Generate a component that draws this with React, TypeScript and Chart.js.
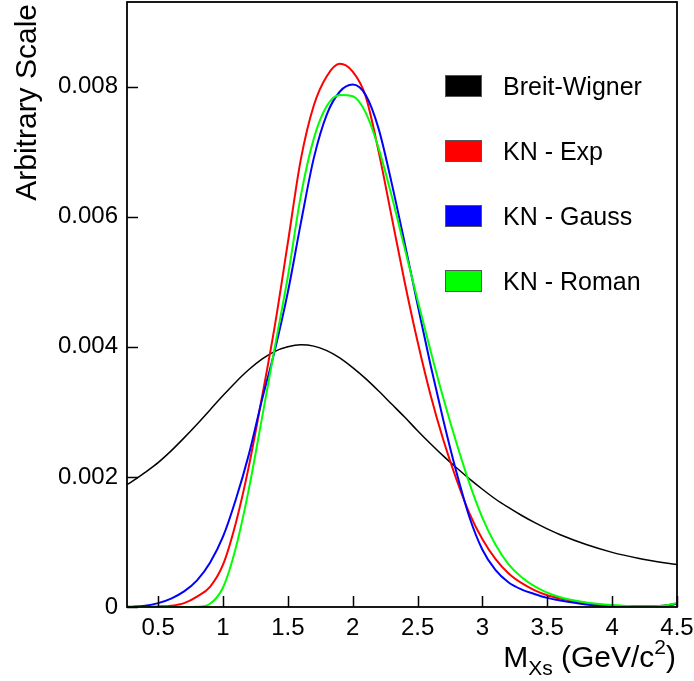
import React, { useEffect, useRef } from "react";
import { Chart, registerables } from "chart.js";

Chart.register(...registerables);

// ---- data ----
const massGrid = [0.26, 0.3, 0.4, 0.5, 0.6, 0.7, 0.8, 0.9, 1.0, 1.1, 1.2, 1.3, 1.4, 1.5, 1.6, 1.7, 1.8, 1.9, 2.0, 2.1, 2.2, 2.3, 2.4, 2.5, 2.6, 2.7, 2.8, 2.9, 3.0, 3.1, 3.2, 3.3, 3.4, 3.5, 3.6, 3.8, 4.0, 4.2, 4.4, 4.5];

const breitWigner = [0.00188, 0.00193, 0.00207, 0.00222, 0.0024, 0.0026, 0.00281, 0.00303, 0.00325, 0.00346, 0.00365, 0.00381, 0.00393, 0.004, 0.00403, 0.00401, 0.00394, 0.00383, 0.00368, 0.00351, 0.00332, 0.00312, 0.00292, 0.00271, 0.00251, 0.00232, 0.00214, 0.00197, 0.00181, 0.00166, 0.00153, 0.00141, 0.0013, 0.0012, 0.00111, 0.00096, 0.00084, 0.00075, 0.00068, 0.00065];

const knExp = [0, 0, 0.000003, 0.000008, 0.00002, 0.00006, 0.00016, 0.00031, 0.00065, 0.0013, 0.00217, 0.00322, 0.00433, 0.0056, 0.00688, 0.00771, 0.00816, 0.00835, 0.00823, 0.00785, 0.007, 0.006, 0.005, 0.00408, 0.00326, 0.00256, 0.00196, 0.00144, 0.00104, 0.00074, 0.00052, 0.00037, 0.00026, 0.00018, 0.00013, 0.00006, 0.00002, 0.00001, 0.00002, 0.00005];

const knGauss = [0.000002, 0.000005, 0.00002, 0.00006, 0.00013, 0.00024, 0.00041, 0.00068, 0.00108, 0.00166, 0.00235, 0.00318, 0.00395, 0.00484, 0.0059, 0.0069, 0.00757, 0.00792, 0.00803, 0.00787, 0.00735, 0.00652, 0.0056, 0.00465, 0.00372, 0.00286, 0.00207, 0.00138, 0.00088, 0.00057, 0.00038, 0.00027, 0.0002, 0.00014, 0.0001, 0.00004, 0.00001, 0.00001, 0.00002, 0.00005];

const knRoman = [0, 0, 0, 0, 0, 0, 0.000003, 0.00005, 0.0003, 0.00092, 0.00182, 0.0029, 0.004, 0.00508, 0.00632, 0.0072, 0.0077, 0.00787, 0.00785, 0.0076, 0.00705, 0.00632, 0.00552, 0.00472, 0.00394, 0.0032, 0.00252, 0.0019, 0.00137, 0.00096, 0.00066, 0.00046, 0.00032, 0.00022, 0.00015, 0.00007, 0.00003, 0.00001, 0.00002, 0.00006];

const seriesLabels = ["Breit-Wigner", "KN - Exp", "KN - Gauss", "KN - Roman"];
const seriesColors = ["#000000", "#ff0000", "#0000ff", "#00ff00"];
const seriesValues = [breitWigner, knExp, knGauss, knRoman];

const xTicks = [0.5, 1, 1.5, 2, 2.5, 3, 3.5, 4, 4.5];
const xTickLabels = ["0.5", "1", "1.5", "2", "2.5", "3", "3.5", "4", "4.5"];
const yTicks = [0, 0.002, 0.004, 0.006, 0.008];
const yTickLabels = ["0", "0.002", "0.004", "0.006", "0.008"];
const xRange = [0.26, 4.5];
const yRange = [0, 0.0093];

const FONT = "'Liberation Sans', Arial, Helvetica, sans-serif";

const decorPlugin = {
  id: "rootDecor",
  afterDatasetsDraw(chart: any) {
    const { ctx, chartArea, scales } = chart;
    const { left, right, top, bottom } = chartArea;
    ctx.save();
    ctx.strokeStyle = "#000";
    ctx.lineWidth = 1.8;
    ctx.strokeRect(left, top, right - left, bottom - top);
    ctx.lineWidth = 1.5;
    ctx.beginPath();
    xTicks.forEach((v) => {
      const px = Math.round(scales.x.getPixelForValue(v)) + 0.5;
      ctx.moveTo(px, bottom);
      ctx.lineTo(px, bottom - 11);
    });
    yTicks.forEach((v) => {
      const py = Math.round(scales.y.getPixelForValue(v)) + 0.5;
      ctx.moveTo(left, py);
      ctx.lineTo(left + 11, py);
    });
    ctx.stroke();

    // Legend
    const rowY = [86, 151, 216, 281];
    ctx.textBaseline = "alphabetic";
    ctx.textAlign = "left";
    ctx.font = `25px ${FONT}`;
    chart.data.datasets.forEach((ds: any, i: number) => {
      const cy = rowY[i];
      ctx.fillStyle = ds.borderColor;
      ctx.fillRect(445, cy - 11, 37, 22);
      ctx.strokeStyle = "#555";
      ctx.lineWidth = 1;
      ctx.strokeRect(445.5, cy - 10.5, 36, 21);
      ctx.fillStyle = "#000";
      ctx.fillText(ds.label, 503, cy + 9);
    });

    // X title: M_{Xs} (GeV/c^{2})
    const big = `30px ${FONT}`;
    const small = `21px ${FONT}`;
    const parts = [
      { t: "M", f: big, dy: 0 },
      { t: "Xs", f: small, dy: 8 },
      { t: " (GeV/c", f: big, dy: 0 },
      { t: "2", f: small, dy: -13 },
      { t: ")", f: big, dy: 0 },
    ];
    let total = 0;
    parts.forEach((p) => {
      ctx.font = p.f;
      total += ctx.measureText(p.t).width;
    });
    let xx = 676 - total;
    const base = 667;
    parts.forEach((p) => {
      ctx.font = p.f;
      ctx.fillText(p.t, xx, base + p.dy);
      xx += ctx.measureText(p.t).width;
    });

    // Y title
    ctx.save();
    ctx.translate(36, 4);
    ctx.rotate(-Math.PI / 2);
    ctx.textAlign = "right";
    ctx.font = big;
    ctx.fillText("Arbitrary Scale", 0, 0);
    ctx.restore();

    ctx.restore();
  },
};

export default function App() {
  const ref = useRef<HTMLCanvasElement | null>(null);
  useEffect(() => {
    document.body.style.margin = "0";
    const canvas = ref.current;
    if (!canvas) return;
    const chart = new Chart(canvas, {
      type: "line",
      data: {
        datasets: seriesValues.map((vals, i) => ({
          label: seriesLabels[i],
          data: massGrid.map((m, j) => ({ x: m, y: vals[j] })),
          borderColor: seriesColors[i],
          backgroundColor: seriesColors[i],
          borderWidth: i === 0 ? 1.5 : 2,
          pointRadius: 0,
          fill: false,
          cubicInterpolationMode: "monotone",
          order: 4 - i,
        })),
      },
      options: {
        animation: false,
        responsive: false,
        devicePixelRatio: 1,
        layout: { padding: { top: 2, right: 17, left: 0, bottom: 0 } },
        plugins: { legend: { display: false }, tooltip: { enabled: false } },
        scales: {
          x: {
            type: "linear",
            min: xRange[0],
            max: xRange[1],
            grid: { display: false, drawTicks: false },
            border: { display: false },
            afterBuildTicks: (s: any) => {
              s.ticks = xTicks.map((v) => ({ value: v }));
            },
            afterFit: (s: any) => {
              s.height = 74;
              s.paddingLeft = 0;
              s.paddingRight = 0;
            },
            ticks: {
              autoSkip: false,
              maxRotation: 0,
              padding: 7,
              color: "#000",
              font: { family: FONT, size: 24 },
              callback: (v: any) => {
                const k = xTicks.indexOf(Number(v));
                return k >= 0 ? xTickLabels[k] : "";
              },
            },
          },
          y: {
            type: "linear",
            min: yRange[0],
            max: yRange[1],
            grid: { display: false, drawTicks: false },
            border: { display: false },
            afterBuildTicks: (s: any) => {
              s.ticks = yTicks.map((v) => ({ value: v }));
            },
            afterFit: (s: any) => {
              s.width = 127;
              s.paddingTop = 0;
              s.paddingBottom = 0;
            },
            ticks: {
              autoSkip: false,
              padding: 9,
              color: "#000",
              font: { family: FONT, size: 24 },
              callback: (v: any) => {
                const k = yTicks.findIndex((t) => Math.abs(t - Number(v)) < 1e-9);
                return k >= 0 ? yTickLabels[k] : "";
              },
            },
          },
        },
      },
      plugins: [decorPlugin],
    } as any);
    return () => chart.destroy();
  }, []);
  return (
    <div style={{ width: 694, height: 681 }}>
      <canvas ref={ref} width={694} height={681} style={{ display: "block", width: 694, height: 681 }} />
    </div>
  );
}
